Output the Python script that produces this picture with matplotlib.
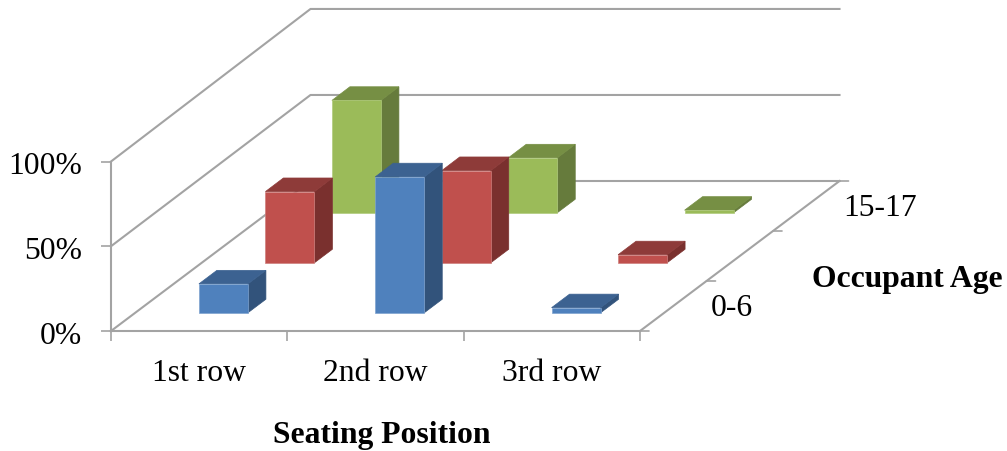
import matplotlib
matplotlib.use('Agg')
import matplotlib.pyplot as plt
from matplotlib.ticker import PercentFormatter
from matplotlib.transforms import ScaledTranslation

plt.rcParams['font.family'] = ['Liberation Serif', 'DejaVu Serif']

rows = ['1st row', '2nd row', '3rd row']
ages = ['0-6', '15-17']
age_positions = [0.5, 2.5]
pct_ticks = [0, 0.5, 1.0]

age_0_6 = [0.17, 0.80, 0.03]
age_7_14 = [0.417, 0.54, 0.047]
age_15_17 = [0.655, 0.32, 0.015]

# oblique projection: one step in depth moves right and up on the plot
DEPTH_X = 66.5 / 176.33
DEPTH_Y = 50.0 / 169.5
DEPTH_GROW = 0.005
BAR_W = 0.139
BAR_D = 0.135

GRID = '#a3a3a3'
FONT = 22.8

# front, top, side, edge
blue = ('#4f81bd', '#3c6291', '#32537b', '#7fa3cf')
red = ('#c0504d', '#8e3b39', '#7a302e', '#cf7f7d')
green = ('#9bbb59', '#768f44', '#667b3c', '#b0cb7c')


def project(cat, depth, height):
    return (cat + depth * DEPTH_X,
            height * (1 + DEPTH_GROW * depth) + depth * DEPTH_Y)


def face(ax, corners, color, edge, z):
    pts = [project(*c) for c in corners]
    ax.fill([p[0] for p in pts], [p[1] for p in pts], facecolor=color,
            edgecolor=edge, linewidth=0.5, clip_on=False, zorder=z)


def draw_bar(ax, cat, depth, value, colors, z):
    front, top, side, edge = colors
    x0, x1 = cat + 0.5 - BAR_W, cat + 0.5 + BAR_W
    d0, d1 = depth + 0.5 - BAR_D, depth + 0.5 + BAR_D
    face(ax, [(x1, d0, 0), (x1, d1, 0), (x1, d1, value), (x1, d0, value)], side, side, z)
    face(ax, [(x0, d0, value), (x1, d0, value), (x1, d1, value), (x0, d1, value)], top, top, z)
    face(ax, [(x0, d0, 0), (x1, d0, 0), (x1, d0, value), (x0, d0, value)], front, edge, z)


fig = plt.figure(figsize=(10.07, 4.51), dpi=100)
ax = fig.add_axes([111 / 1007, 120 / 451, 529 / 1007, 169.5 / 451])
ax.set_xlim(0, len(rows))
ax.set_ylim(0, 1)
ax.autoscale(False)
ax.patch.set_visible(False)

# walls and floor
n_depth = 3
for p in pct_ticks:
    back_left = project(0, n_depth, p)
    back_right = project(len(rows), n_depth, p)
    front_left = project(0, 0, p)
    ax.plot([front_left[0], back_left[0], back_right[0]],
            [front_left[1], back_left[1], back_right[1]],
            color=GRID, lw=1.5, clip_on=False, zorder=1)

floor_x, floor_y = zip(project(len(rows), 0, 0), project(len(rows), n_depth, 0))
ax.plot(floor_x, floor_y, color=GRID, lw=1.5, clip_on=False, zorder=1)

# depth axis ticks
for d in range(n_depth + 1):
    tx, ty = project(len(rows), d, 0)
    ax.annotate('', xy=(tx, ty), xytext=(9, 0), textcoords='offset pixels',
                annotation_clip=False,
                arrowprops=dict(arrowstyle='-', color=GRID, lw=1.2, shrinkA=0, shrinkB=0))

for d, series in zip([2, 1, 0], [age_15_17, age_7_14, age_0_6]):
    colors = {0: blue, 1: red, 2: green}[d]
    for c, val in enumerate(series):
        draw_bar(ax, c, d, val, colors, 3 + (2 - d))

for s in ['top', 'right']:
    ax.spines[s].set_visible(False)
for s in ['left', 'bottom']:
    ax.spines[s].set_color(GRID)
    ax.spines[s].set_linewidth(1.5)

ax.set_yticks(pct_ticks)
ax.yaxis.set_major_formatter(PercentFormatter(1.0, decimals=0))
ax.tick_params(axis='y', length=7, width=1.2, color=GRID, pad=14, labelsize=FONT)

ax.set_xticks(range(len(rows) + 1))
ax.set_xticklabels([])
ax.set_xticks([i + 0.5 for i in range(len(rows))], minor=True)
ax.set_xticklabels(rows, minor=True)
ax.tick_params(axis='x', which='major', length=7, width=1.2, color=GRID)
ax.tick_params(axis='x', which='minor', length=0, pad=20, labelsize=FONT)

# percent labels sit slightly below their ticks
nudge = ScaledTranslation(0, -2 / 100, fig.dpi_scale_trans)
for label in ax.get_yticklabels():
    label.set_transform(label.get_transform() + nudge)

for name, d in zip(ages, age_positions):
    tx, ty = project(len(rows), d, 0)
    ax.annotate(name, xy=(tx, ty), xytext=(37, -3), textcoords='offset pixels',
                fontsize=FONT, ha='left', va='center', annotation_clip=False)

fig.text(382 / 1007, 1 - 435 / 451, 'Seating Position', fontsize=FONT,
         fontweight='bold', ha='center', va='center')
fig.text(907 / 1007, 1 - 279 / 451, 'Occupant Age', fontsize=FONT,
         fontweight='bold', ha='center', va='center')

fig.savefig('out.png', dpi=100)
